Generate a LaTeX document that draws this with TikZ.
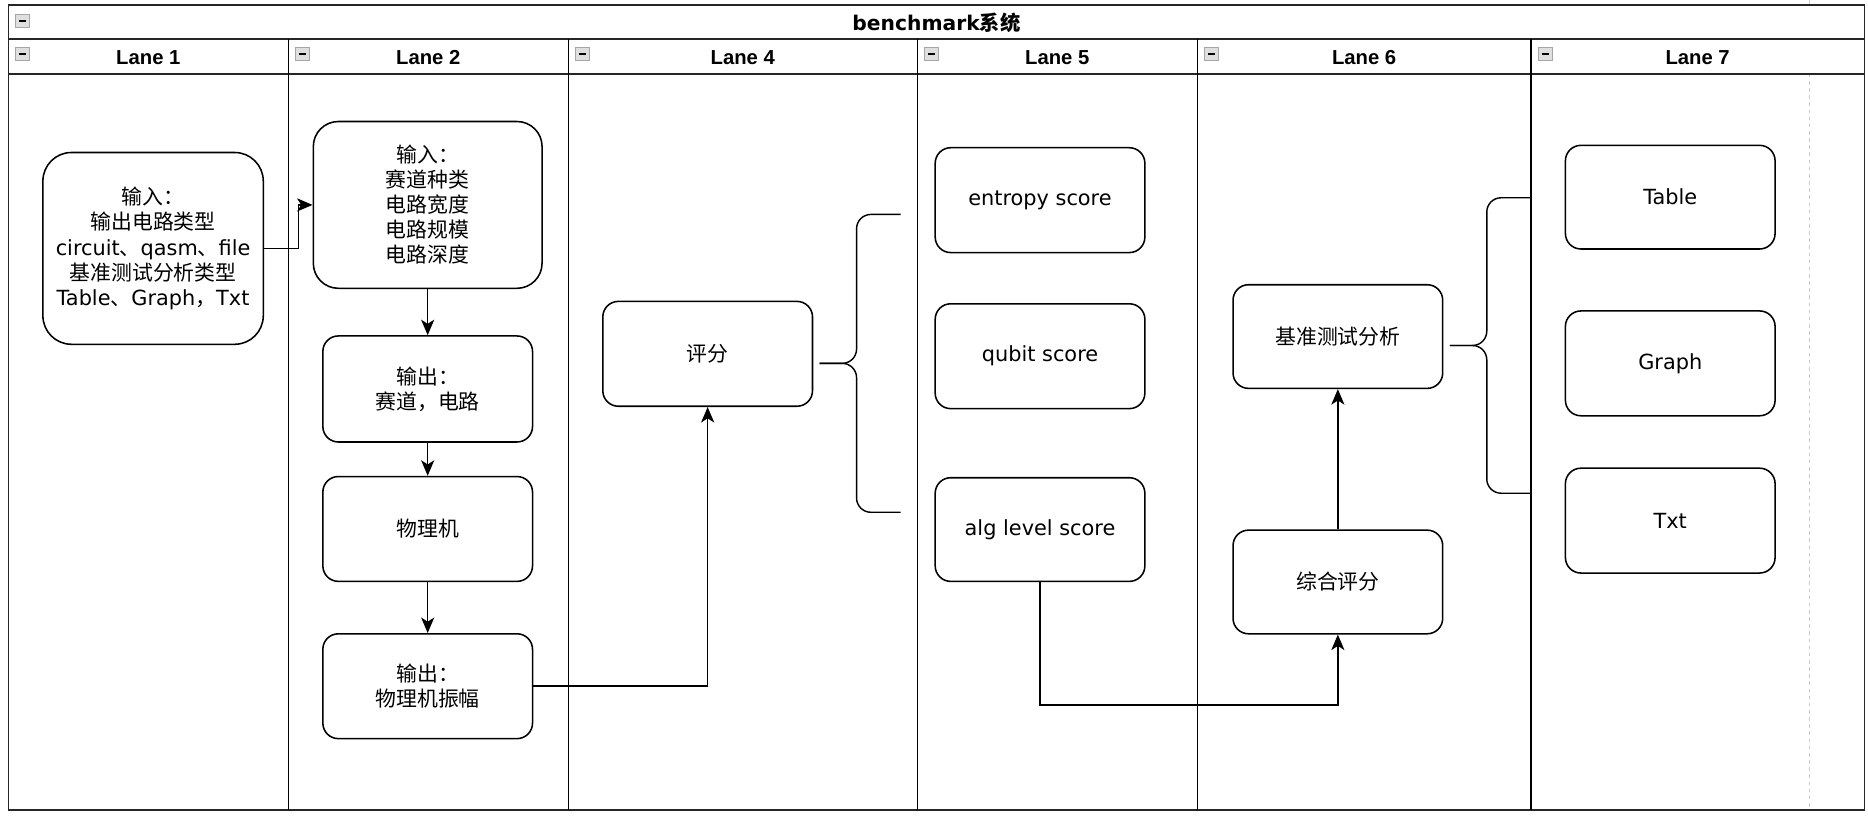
\documentclass[tikz,border=0pt]{standalone}
\usepackage{fontspec}
\setmainfont{DejaVu Sans}
\newfontfamily\cj{Noto Sans CJK SC}
\newfontfamily\hdf{Liberation Sans}
\usetikzlibrary{arrows.meta}
\newcommand\zhc[1]{{\cj #1}}
\begin{document}
\begin{tikzpicture}[x=1pt,y=-1pt,
  poolline/.style={line width=1.4pt, draw=black!85},
  laneline/.style={line width=1.1pt, draw=black},
  lanelbl/.style={font=\hdf\bfseries\fontsize{17}{20}\selectfont, inner sep=0pt},
  titlelbl/.style={font=\bfseries\fontsize{17}{20}\selectfont, inner sep=0pt},
  box/.style={draw, line width=1.3pt, rounded corners=13pt, align=center,
    font=\fontsize{17.5}{21}\selectfont, inner sep=0pt, fill=white,
    minimum width=176pt, minimum height=88pt},
  conn/.style={line width=1.2pt, -{Stealth[length=13pt,width=11pt,inset=3.5pt]}},
  brace/.style={line width=1.2pt, rounded corners=12pt},
  icon/.style={fill=gray!25, draw=gray!70, line width=0.6pt}
]
\useasboundingbox (0,0) rectangle (1568,685);
\fill[white] (0,0) rectangle (1568,685);

% page-break guide
\draw[gray!40, line width=0.9pt] (1519,0) -- (1519,4);
\draw[gray!40, line width=0.9pt, dashed] (1519,62) -- (1519,680);

% pool
\draw[poolline] (7,4) rectangle (1565,680);
\draw[poolline] (7,33) -- (1565,33);
\draw[poolline] (7,62) -- (1565,62);
\foreach \x in {242,477,770,1005,1285} \draw[laneline] (\x,33) -- (\x,680);

% collapse icons
\foreach \x/\y in {13/12,13/40,248/40,483/40,776/40,1011/40,1291/40}{
  \draw[icon] (\x,\y) rectangle ++(12,11);
  \draw[line width=1.3pt] (\x+3,\y+5.5) -- (\x+9,\y+5.5);
}

% titles
\node[titlelbl] (title) at (786,19) {benchmark{\cj\bfseries 系统}};
\node[lanelbl] (l1) at (124.5,48) {Lane 1};
\node[lanelbl] (l2) at (359.5,48) {Lane 2};
\node[lanelbl] (l4) at (623.5,48) {Lane 4};
\node[lanelbl] (l5) at (887.5,48) {Lane 5};
\node[lanelbl] (l6) at (1145,48) {Lane 6};
\node[lanelbl] (l7) at (1425,48) {Lane 7};

% nodes
\node[box, minimum width=185pt, minimum height=161pt, rounded corners=24pt] (A) at (128.5,208.5)
  {\zhc{输入：}\\\zhc{输出电路类型}\\circuit\zhc{、}qasm\zhc{、}file\\\zhc{基准测试分析类型}\\Table\zhc{、}Graph\zhc{，}Txt};
\node[box, minimum width=192pt, minimum height=140pt, rounded corners=21pt] (B) at (359,172)
  {\zhc{输入：}\\\zhc{赛道种类}\\\zhc{电路宽度}\\\zhc{电路规模}\\\zhc{电路深度}};
\node[box, minimum height=89pt] (C) at (359,326.5) {\zhc{输出：}\\\zhc{赛道，电路}};
\node[box] (D) at (359,444) {\zhc{物理机}};
\node[box] (E) at (359,576) {\zhc{输出：}\\\zhc{物理机振幅}};
\node[box] (F) at (594,297) {\zhc{评分}};
\node[box] (G) at (873,168) {entropy score};
\node[box] (H) at (873,299) {qubit score};
\node[box, minimum height=87pt] (I) at (873,444.5) {alg level score};
\node[box, minimum height=87pt] (J) at (1123,282.5) {\zhc{基准测试分析}};
\node[box, minimum height=87pt] (K) at (1123,488.5) {\zhc{综合评分}};
\node[box, minimum height=87pt] (L) at (1402,165.5) {Table};
\node[box] (M) at (1402,305) {Graph};
\node[box] (N) at (1402,437) {Txt};

% connectors
\draw[conn] (A.east) -- ++(29,0) |- (B.west);
\draw[conn] (B) -- (C);
\draw[conn] (C) -- (D);
\draw[conn] (D) -- (E);
\draw[conn] (E.east) -| (F.south);
\draw[conn] (I.south) -- ++(0,103) -| (K.south);
\draw[conn] (K) -- (J);

% braces
\draw[brace] (756,180) -- (719,180) -- (719,305) -- (688,305);
\draw[brace] (756,430) -- (719,430) -- (719,305) -- (688,305);
\draw[brace] (1285,166) -- (1248,166) -- (1248,290) -- (1217,290);
\draw[brace] (1285,414) -- (1248,414) -- (1248,290) -- (1217,290);
\end{tikzpicture}
\end{document}
